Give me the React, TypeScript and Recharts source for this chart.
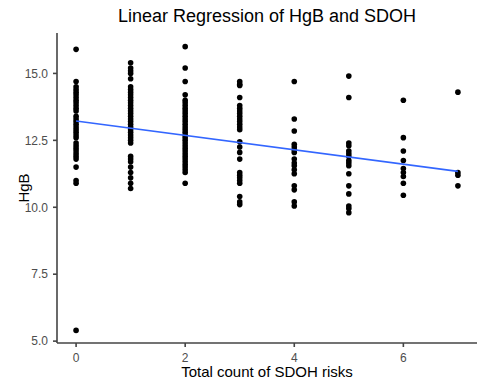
import React from 'react'
import { ScatterChart, Scatter, XAxis, YAxis, Label } from 'recharts'

// HgB readings grouped by total count of SDOH risks (0..7)
const sdohCounts = [0, 1, 2, 3, 4, 5, 6, 7]

const hgb0 = [15.9, 14.7, 14.5, 14.4, 14.3, 14.2, 14.1, 14.0, 13.9, 13.8, 13.7, 13.6, 13.4, 13.3, 13.2, 13.1, 13.0, 12.9, 12.8, 12.7, 12.6, 12.4, 12.3, 12.2, 12.1, 12.0, 11.9, 11.8, 11.5, 11.0, 10.9, 5.4]
const hgb1 = [15.4, 15.2, 15.1, 15.0, 14.8, 14.5, 14.4, 14.3, 14.2, 14.1, 14.0, 13.9, 13.8, 13.7, 13.6, 13.5, 13.4, 13.3, 13.2, 13.1, 13.0, 12.9, 12.8, 12.7, 12.6, 12.5, 12.4, 11.9, 11.8, 11.7, 11.5, 11.3, 11.1, 10.9, 10.7]
const hgb2 = [16.0, 15.2, 14.7, 14.2, 14.0, 13.9, 13.8, 13.7, 13.6, 13.5, 13.4, 13.3, 13.2, 13.1, 13.0, 12.9, 12.8, 12.7, 12.6, 12.5, 12.4, 12.3, 12.2, 12.1, 12.0, 11.9, 11.8, 11.7, 11.6, 11.5, 11.4, 11.3, 10.9]
const hgb3 = [14.7, 14.6, 14.55, 14.1, 13.8, 13.7, 13.6, 13.5, 13.4, 13.3, 13.2, 13.1, 13.0, 12.9, 12.45, 12.25, 12.05, 11.8, 11.3, 11.2, 11.1, 11.0, 10.9, 10.4, 10.2, 10.1]
const hgb4 = [14.7, 13.3, 12.85, 12.35, 12.25, 12.15, 12.05, 11.8, 11.65, 11.55, 11.4, 11.25, 10.8, 10.65, 10.2, 10.05]
const hgb5 = [14.9, 14.1, 12.4, 12.3, 12.1, 12.0, 11.9, 11.75, 11.65, 11.55, 11.25, 10.8, 10.5, 10.05, 9.95, 9.8]
const hgb6 = [14.0, 12.6, 12.1, 11.75, 11.45, 11.3, 11.15, 10.9, 10.45]
const hgb7 = [14.3, 11.3, 11.2, 10.8]

const hgbByCount = [hgb0, hgb1, hgb2, hgb3, hgb4, hgb5, hgb6, hgb7]

// fitted regression line end points
const regX = [0, 7]
const regY = [13.22, 11.34]

const xTicks = [0, 2, 4, 6]
const yTicks = [5, 7.5, 10, 12.5, 15]

const points = sdohCounts.flatMap((c, i) => hgbByCount[i].map(v => ({ x: c, y: v })))
const regLine = regX.map((x, i) => ({ x, y: regY[i] }))

const FONT = '"Liberation Sans", Arial, sans-serif'
const AXIS = '#444'
const TICK_TEXT = '#4d4d4d'

const Dot = (props: any) => <circle cx={props.cx} cy={props.cy} r={2.8} fill="#000" />

export default function App() {
  return (
    <div style={{ position: 'absolute', left: 0, top: 0, width: 486, height: 388, background: '#fff', fontFamily: FONT }}>
      <div style={{ position: 'absolute', left: 57, top: 7, width: 420, textAlign: 'center', fontSize: 18, lineHeight: '18px', color: '#000' }}>
        Linear Regression of HgB and SDOH
      </div>
      <ScatterChart width={486} height={388} margin={{ top: 33, right: 9, left: 0, bottom: 0 }}>
        <XAxis
          type="number"
          dataKey="x"
          domain={[-0.35, 7.35]}
          ticks={xTicks}
          interval={0}
          height={45}
          tickSize={4}
          tickMargin={6}
          stroke={AXIS}
          strokeWidth={1.6}
          tick={{ fontSize: 12, fill: TICK_TEXT, stroke: 'none', fontFamily: FONT }}
        >
          <Label
            content={({ viewBox }: any) => (
              <text x={viewBox.x + viewBox.width / 2} y={viewBox.y + 34} textAnchor="middle" fontSize={15} fill="#000" fontFamily={FONT}>
                Total count of SDOH risks
              </text>
            )}
          />
        </XAxis>
        <YAxis
          type="number"
          dataKey="y"
          domain={[4.93, 16.51]}
          ticks={yTicks}
          interval={0}
          width={57}
          tickSize={4}
          tickMargin={5}
          stroke={AXIS}
          strokeWidth={1.6}
          tickFormatter={(v: number) => v.toFixed(1)}
          tick={{ fontSize: 12, fill: TICK_TEXT, stroke: 'none', fontFamily: FONT }}
        >
          <Label
            content={({ viewBox }: any) => {
              const cx = 23
              const cy = viewBox.y + viewBox.height / 2
              return (
                <text x={cx} y={cy} transform={`rotate(-90 ${cx} ${cy})`} textAnchor="middle" dominantBaseline="central" fontSize={15} fill="#000" fontFamily={FONT}>
                  HgB
                </text>
              )
            }}
          />
        </YAxis>
        <Scatter data={points} shape={Dot} isAnimationActive={false} />
        <Scatter
          data={regLine}
          line={{ stroke: '#3366FF', strokeWidth: 1.6 }}
          shape={() => <g />}
          isAnimationActive={false}
        />
      </ScatterChart>
    </div>
  )
}
